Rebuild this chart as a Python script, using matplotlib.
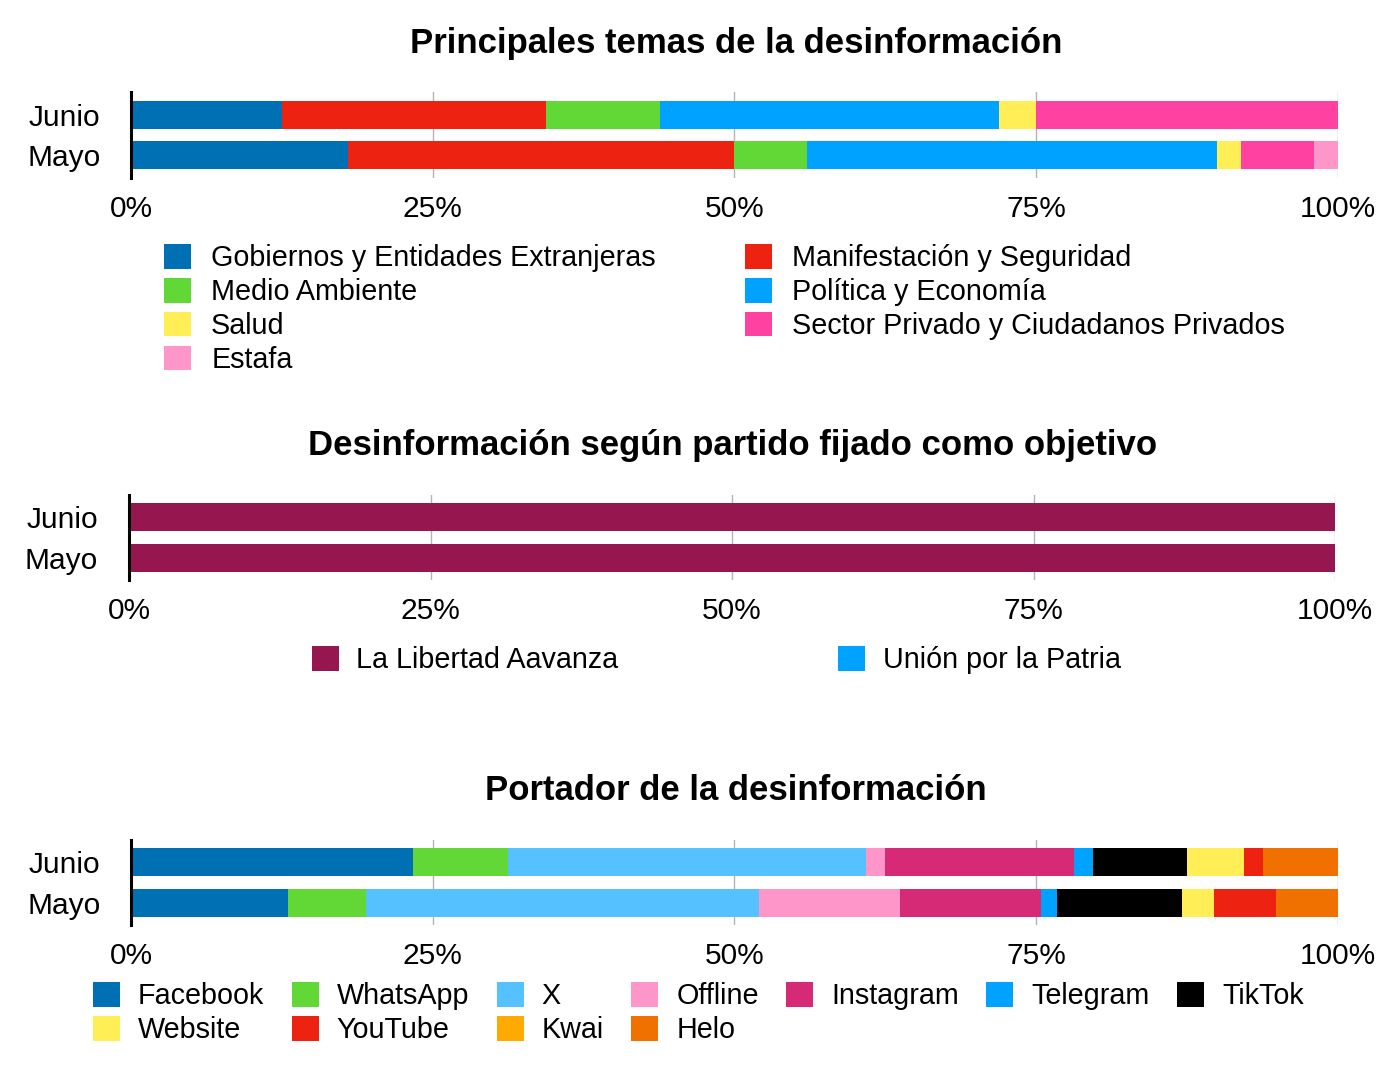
import numpy as np
import matplotlib
matplotlib.use("Agg")
import matplotlib.pyplot as plt
from matplotlib.patches import Patch

plt.rcParams['font.family'] = ['Liberation Sans', 'DejaVu Sans']

# meses (de arriba hacia abajo)
meses = ['Junio', 'Mayo']
ticks = [0, 25, 50, 75, 100]
tick_labels = ['0%', '25%', '50%', '75%', '100%']

# --- Principales temas (%), [Junio, Mayo]
temas = ['Gobiernos y Entidades Extranjeras', 'Manifestación y Seguridad', 'Medio Ambiente',
         'Política y Economía', 'Salud', 'Sector Privado y Ciudadanos Privados', 'Estafa']
temas_junio = [12.5, 21.9, 9.4, 28.1, 3.1, 25.0, 0.0]
temas_mayo = [18.0, 32.0, 6.0, 34.0, 2.0, 6.0, 2.0]
temas_colores = ['#0070B5', '#EE2211', '#62D836', '#00A2FF', '#FFEE55', '#FF42A1', '#FF96CA']

# --- Partido fijado como objetivo (%)
partidos = ['La Libertad Aavanza', 'Unión por la Patria']
partidos_junio = [100.0, 0.0]
partidos_mayo = [100.0, 0.0]
partidos_colores = ['#961650', '#00A2FF']

# --- Portador (%)
portadores = ['Facebook', 'WhatsApp', 'X', 'Offline', 'Instagram', 'Telegram', 'TikTok',
              'Website', 'YouTube', 'Kwai', 'Helo']
port_junio = [23.4, 7.8, 29.7, 1.6, 15.6, 1.6, 7.8, 4.7, 1.6, 0.0, 6.2]
port_mayo = [13.0, 6.5, 32.5, 11.7, 11.7, 1.3, 10.4, 2.6, 5.2, 0.0, 5.1]
port_colores = ['#0070B5', '#62D836', '#56C1FF', '#FF96CA', '#D62976', '#00A2FF', '#000000',
                '#FFEE55', '#EE2211', '#FFAA00', '#F07000']

W, H = 1400, 1070
fig = plt.figure(figsize=(W / 100, H / 100), dpi=100)

TICK_FS = 21.5
LEG_FS = 20.7
TITLE_FS = 25
SQ = 27 / (LEG_FS * 100 / 72)   # cuadro de leyenda ~27 px


def make_axes(x0, x1, top, bot, cj, cm):
    ax = fig.add_axes([x0 / W, 1 - bot / H, (x1 - x0) / W, (bot - top) / H])
    unit = cm - cj
    ax.set_ylim(-(bot - cm) / unit, 1 + (cj - top) / unit)
    return ax, 28 / unit


def stacked(ax, bh, junio, mayo, colores, ypad):
    ypos = [1, 0]
    left = np.zeros(2)
    for j, m, c in zip(junio, mayo, colores):
        vals = np.array([j, m])
        ax.barh(ypos, vals, left=left, height=bh, color=c, linewidth=0, zorder=3)
        left += vals
    ax.set_xlim(0, 100)
    ax.set_xticks(ticks)
    ax.set_xticklabels(tick_labels, fontsize=TICK_FS)
    ax.set_yticks(ypos)
    ax.set_yticklabels(meses, fontsize=TICK_FS)
    ax.tick_params(axis='x', length=0, pad=12)
    ax.tick_params(axis='y', length=0, pad=ypad)
    for s in ['top', 'right', 'bottom']:
        ax.spines[s].set_visible(False)
    ax.spines['left'].set_linewidth(2.2)
    ax.spines['left'].set_zorder(4)
    ax.grid(axis='x', color='#b4b4b4', linewidth=1, zorder=0)


def legend(ax, labels, colores, order, x, y, ncol, colsp, tpad):
    hs = [Patch(facecolor=colores[i], edgecolor='none', label=labels[i]) for i in order]
    ax.legend(handles=hs, loc='upper left', bbox_to_anchor=(x / W, 1 - y / H),
              bbox_transform=fig.transFigure, ncol=ncol, frameon=False, fontsize=LEG_FS,
              borderpad=0, borderaxespad=0, handlelength=SQ, handleheight=SQ,
              handletextpad=tpad, labelspacing=0.2, columnspacing=colsp)


# grafico 1
ax1, bh1 = make_axes(131, 1338, 92, 178, 115, 155)
stacked(ax1, bh1, temas_junio, temas_mayo, temas_colores, 22)
fig.text(736 / W, 1 - 43 / H, 'Principales temas de la desinformación', fontsize=TITLE_FS,
         fontweight='bold', ha='center', va='center')
legend(ax1, temas, temas_colores, [0, 2, 4, 6, 1, 3, 5], 164, 244, 2, 3.1, 0.7)

# grafico 2
ax2, bh2 = make_axes(129, 1335, 495, 580, 517, 558)
stacked(ax2, bh2, partidos_junio, partidos_mayo, partidos_colores, 22.5)
fig.text(733 / W, 1 - 445 / H, 'Desinformación según partido fijado como objetivo',
         fontsize=TITLE_FS, fontweight='bold', ha='center', va='center')
legend(ax2, partidos, partidos_colores, [0, 1], 312, 646, 2, 7.65, 0.6)

# grafico 3
ax3, bh3 = make_axes(131, 1338, 840, 925, 862, 903)
stacked(ax3, bh3, port_junio, port_mayo, port_colores, 22)
fig.text(736 / W, 1 - 790 / H, 'Portador de la desinformación', fontsize=TITLE_FS,
         fontweight='bold', ha='center', va='center')
legend(ax3, portadores, port_colores, [0, 7, 1, 8, 2, 9, 3, 10, 4, 5, 6], 93, 982, 7, 0.95, 0.63)

fig.savefig('out.png', dpi=100)
